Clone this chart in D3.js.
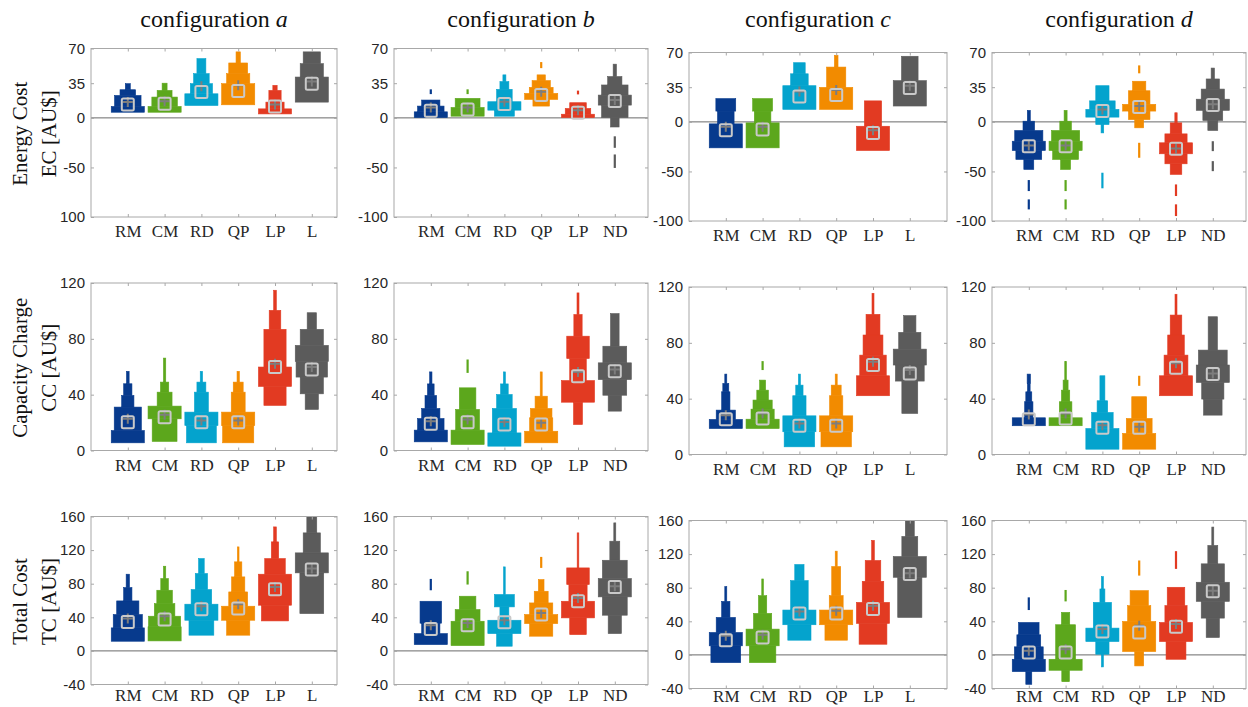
<!DOCTYPE html>
<html>
<head>
<meta charset="utf-8">
<script src="https://cdn.jsdelivr.net/npm/d3@7"></script>
<style>
  body { margin: 0; background: #fff; }
  svg { display: block; }
</style>
</head>
<body>
<svg id="chart" width="1248" height="707"></svg>
<script>
// categories per configuration
const catsAC = ['RM', 'CM', 'RD', 'QP', 'LP', 'L'];
const catsBD = ['RM', 'CM', 'RD', 'QP', 'LP', 'ND'];
const configNames = ['a', 'b', 'c', 'd'];

// y ticks per row
const ecTicks = [70, 35, 0, -50, -100];
const ecTickLabelsA = ['70', '35', '0', '-50', '100'];
const ccTicks = [0, 40, 80, 120];
const tcTicks = [-40, 0, 40, 80, 120, 160];

// each box: s = stacked steps [lo, hi, relative width], o = outlier dashes [lo, hi],
// sq = square marker value, cr = cross marker value
const ecA = [
  { s: [[5.7, 11.5, 1], [11.5, 22.6, 0.8], [22.6, 28.4, 0.47], [28.4, 34.5, 0.15]], o: [], sq: 13.5, cr: 15.9 },
  { s: [[5.7, 11.5, 1], [11.5, 21, 0.77], [21, 27.7, 0.45], [27.7, 35, 0.15]], o: [], sq: 14.2, cr: 16.9 },
  { s: [[12.5, 24.3, 1], [24.3, 34.5, 0.67], [34.5, 44.6, 0.47], [44.6, 59.8, 0.27]], o: [], sq: 26, cr: 31.8 },
  { s: [[13.2, 34.5, 1], [34.5, 44.6, 0.7], [44.6, 55.4, 0.57], [55.4, 66.6, 0.13]], o: [], sq: 27, cr: 32.8 },
  { s: [[4, 9.1, 1], [9.1, 15.9, 0.55], [15.9, 27.7, 0.37], [27.7, 32.8, 0.13]], o: [], sq: 11.5, cr: 13.5 },
  { s: [[15.9, 41.2, 1], [41.2, 54.7, 0.7], [54.7, 66.6, 0.52]], o: [], sq: 34.5, cr: 36.8 }
];
const ecB = [
  { s: [[0.3, 6.1, 1], [6.1, 11.9, 0.8], [11.9, 18, 0.55]], o: [[24, 28.8]], sq: 7.1, cr: 10.5 },
  { s: [[1.7, 10.5, 1], [10.5, 19.7, 0.75]], o: [[24, 28.8]], sq: 8.5, cr: 10.5 },
  { s: [[1.7, 7.8, 0.6], [7.8, 16.3, 1], [16.3, 28.8, 0.47], [28.8, 36.6, 0.27], [36.6, 43.4, 0.09]], o: [], sq: 13.9, cr: 16.3 },
  { s: [[11.9, 18.6, 0.5], [18.6, 24.7, 1], [24.7, 30.8, 0.72], [30.8, 37.6, 0.55], [37.6, 43.4, 0.25]], o: [[50.2, 56.3]], sq: 23, cr: 26.4 },
  { s: [[0.3, 3.7, 1], [3.7, 9.5, 0.77], [9.5, 15.3, 0.5]], o: [[23.7, 27.5]], sq: 5.1, cr: 7.8 },
  { s: [[-9.2, 0.3, 0.26], [0.3, 12.9, 0.8], [12.9, 23, 1], [23, 33.2, 0.8], [33.2, 41.7, 0.43], [41.7, 54.2, 0.1]], o: [[-30.2, -18.6], [-50.5, -36.9]], sq: 17, cr: 18 }
];
const ecC = [
  { s: [[-26.2, -2, 1], [-2, 10.9, 0.5], [10.9, 23.5, 0.6]], o: [], sq: -8.4, cr: -5 },
  { s: [[-26.2, -1, 1], [-1, 10.9, 0.5], [10.9, 23.5, 0.6]], o: [], sq: -7.7, cr: -5 },
  { s: [[12.6, 36.5, 1], [36.5, 48.5, 0.53], [48.5, 59.7, 0.35]], o: [], sq: 25.6, cr: 30.7 },
  { s: [[12.6, 34.8, 1], [34.8, 55.3, 0.58], [55.3, 67.2, 0.11]], o: [], sq: 27, cr: 32.1 },
  { s: [[-28.9, -4.4, 1], [-4.4, 21.2, 0.52]], o: [], sq: -11.1, cr: -8.4 },
  { s: [[16, 41.6, 1], [41.6, 66.2, 0.5]], o: [], sq: 34.1, cr: 36.5 }
];
const ecD = [
  { s: [[-48, -37.9, 0.3], [-37.9, -28.9, 0.78], [-28.9, -19.5, 1], [-19.5, -8.7, 0.85], [-8.7, 0.7, 0.35], [0.7, 11.6, 0.09]], o: [[-69.8, -58.7], [-88.3, -78.2]], sq: -24.5, cr: -23.8 },
  { s: [[-48, -37.9, 0.3], [-37.9, -28.9, 0.78], [-28.9, -19.5, 1], [-19.5, -8.7, 0.85], [-8.7, 0.7, 0.35], [0.7, 11.6, 0.09]], o: [[-69.8, -58.7], [-88.3, -78.2]], sq: -24.5, cr: -23.8 },
  { s: [[-11.1, -2.7, 0.08], [-2.7, 4.8, 0.4], [4.8, 12.6, 1], [12.6, 21.2, 0.77], [21.2, 36.5, 0.4]], o: [[-67, -51.3]], sq: 10.9, cr: 12.6 },
  { s: [[-6, 2.3, 0.27], [2.3, 10.9, 0.65], [10.9, 17.7, 1], [17.7, 31.4, 0.65], [31.4, 41, 0.4]], o: [[49, 57], [-36.2, -21.1]], sq: 15, cr: 16 },
  { s: [[-53, -42.3, 0.35], [-42.3, -32.2, 0.67], [-32.2, -21.1, 1], [-21.1, -12.1, 0.67], [-12.1, -1, 0.35], [-1, 9.2, 0.07]], o: [[-74.8, -63.1], [-95, -83.2]], sq: -27.2, cr: -26.8 },
  { s: [[-8.7, 1.4, 0.3], [1.4, 11.6, 0.6], [11.6, 22.9, 1], [22.9, 33.1, 0.7], [33.1, 43.3, 0.4], [43.3, 54.3, 0.1]], o: [[-29.5, -19.5], [-49.7, -39.6]], sq: 17, cr: 17.7 }
];

const ccA = [
  { s: [[5.5, 14.3, 1], [14.3, 31.1, 0.82], [31.1, 39.4, 0.37], [39.4, 47.8, 0.25], [47.8, 56.7, 0.08]], o: [], sq: 20.3, cr: 22.7 },
  { s: [[6.5, 22.7, 0.75], [22.7, 31.8, 1], [31.8, 41.8, 0.45], [41.8, 49, 0.25], [49, 66.2, 0.07]], o: [], sq: 23.9, cr: 25.6 },
  { s: [[5.5, 17.9, 0.9], [17.9, 27.5, 1], [27.5, 41.8, 0.42], [41.8, 49, 0.27], [49, 56.7, 0.07]], o: [], sq: 20.3, cr: 21.5 },
  { s: [[5.5, 17.9, 0.94], [17.9, 27.5, 1], [27.5, 41.8, 0.42], [41.8, 49, 0.3], [49, 56.7, 0.07]], o: [], sq: 20.3, cr: 21.5 },
  { s: [[32.3, 45.9, 0.67], [45.9, 59.8, 1], [59.8, 86.8, 0.67], [86.8, 100.4, 0.35], [100.4, 114.8, 0.08]], o: [], sq: 59.8, cr: 62.2 },
  { s: [[29.4, 40.6, 0.4], [40.6, 52.6, 0.7], [52.6, 63.8, 0.95], [63.8, 75.3, 1], [75.3, 86.8, 0.7], [86.8, 98.7, 0.28]], o: [], sq: 58.1, cr: 59.8 }
];
const ccB = [
  { s: [[6.2, 14.6, 1], [14.6, 22.9, 0.8], [22.9, 30.1, 0.55], [30.1, 39.4, 0.35], [39.4, 47.7, 0.2], [47.7, 56.3, 0.07]], o: [], sq: 19.1, cr: 21 },
  { s: [[4.3, 14.6, 1], [14.6, 29.4, 0.72], [29.4, 44.9, 0.5]], o: [[55.6, 65.2]], sq: 20.3, cr: 22.2 },
  { s: [[3.1, 12.6, 1], [12.6, 30.1, 0.73], [30.1, 40.1, 0.47], [40.1, 47.7, 0.23], [47.7, 56.3, 0.06]], o: [], sq: 18.6, cr: 20.5 },
  { s: [[5.5, 13.8, 1], [13.8, 23.4, 0.7], [23.4, 30.1, 0.65], [30.1, 38.9, 0.37], [38.9, 56.3, 0.06]], o: [], sq: 18.6, cr: 19.8 },
  { s: [[18.6, 34.6, 0.27], [34.6, 50.1, 1], [50.1, 65.9, 0.5], [65.9, 81.9, 0.68], [81.9, 97.4, 0.25], [97.4, 112.9, 0.06]], o: [], sq: 53.2, cr: 56.3 },
  { s: [[28.2, 39.6, 0.4], [39.6, 50.8, 0.72], [50.8, 62.8, 1], [62.8, 74.7, 0.72], [74.7, 98.1, 0.26]], o: [], sq: 56.8, cr: 58 }
];
const ccC = [
  { s: [[18.6, 25.1, 1], [25.1, 31.8, 0.58], [31.8, 44.9, 0.25], [44.9, 50.9, 0.18], [50.9, 57.6, 0.06]], o: [], sq: 25.3, cr: 28.2 },
  { s: [[18.6, 25.3, 1], [25.3, 32.5, 0.7], [32.5, 39, 0.58], [39, 46.1, 0.35], [46.1, 53.3, 0.18]], o: [[60.5, 66.9]], sq: 25.8, cr: 29.4 },
  { s: [[5.5, 16.3, 0.92], [16.3, 27.7, 1], [27.7, 42.1, 0.4], [42.1, 49.7, 0.22], [49.7, 57.6, 0.06]], o: [], sq: 20.6, cr: 22.2 },
  { s: [[5.5, 16.3, 0.92], [16.3, 27.7, 1], [27.7, 42.1, 0.4], [42.1, 49.7, 0.3], [49.7, 57.6, 0.06]], o: [], sq: 20.6, cr: 22.2 },
  { s: [[42.1, 56.4, 1], [56.4, 71.2, 0.8], [71.2, 85.6, 0.6], [85.6, 100.4, 0.42], [100.4, 115.5, 0.06]], o: [], sq: 64.1, cr: 66.5 },
  { s: [[29.4, 52.6, 0.48], [52.6, 64.1, 0.87], [64.1, 75.5, 1], [75.5, 87.5, 0.67], [87.5, 99.5, 0.37]], o: [], sq: 58.1, cr: 60.5 }
];
const ccD = [
  { s: [[20.6, 26.3, 1], [26.3, 37.8, 0.25], [37.8, 44.9, 0.18], [44.9, 50.9, 0.08], [50.9, 57.6, 0.1]], o: [], sq: 25.3, cr: 28.7 },
  { s: [[20.6, 26.3, 1], [26.3, 37.8, 0.38], [37.8, 46.1, 0.25], [46.1, 53.3, 0.15], [53.3, 66.5, 0.05]], o: [], sq: 25.8, cr: 29.4 },
  { s: [[3.8, 18.6, 1], [18.6, 30.1, 0.65], [30.1, 38.5, 0.32], [38.5, 56.4, 0.15]], o: [], sq: 19.1, cr: 21 },
  { s: [[3.8, 15.1, 1], [15.1, 25.8, 0.78], [25.8, 41.4, 0.45]], o: [[49.2, 56.4]], sq: 19.1, cr: 19.8 },
  { s: [[42.1, 56.4, 1], [56.4, 71.2, 0.72], [71.2, 85.6, 0.5], [85.6, 99.9, 0.35], [99.9, 114.8, 0.06]], o: [], sq: 62.2, cr: 65.3 },
  { s: [[28.2, 39.7, 0.56], [39.7, 51.6, 0.67], [51.6, 64.1, 1], [64.1, 74.8, 0.87], [74.8, 98.7, 0.28]], o: [], sq: 57.6, cr: 58.1 }
];

const tcA = [
  { s: [[11.5, 27.4, 1], [27.4, 43.3, 0.88], [43.3, 59.5, 0.67], [59.5, 75.4, 0.25], [75.4, 91.3, 0.1]], o: [], sq: 34.5, cr: 38.5 },
  { s: [[11.9, 28.6, 1], [28.6, 41.3, 0.97], [41.3, 56.3, 0.62], [56.3, 72.2, 0.47], [72.2, 86.1, 0.23], [86.1, 100.8, 0.07]], o: [], sq: 37.3, cr: 41.3 },
  { s: [[18.7, 36.5, 0.75], [36.5, 55.6, 1], [55.6, 73, 0.62], [73, 92.1, 0.37], [92.1, 109.9, 0.17]], o: [], sq: 49.6, cr: 53.2 },
  { s: [[18.7, 36.5, 0.7], [36.5, 53.2, 1], [53.2, 70.2, 0.57], [70.2, 88.1, 0.4], [88.1, 106, 0.22], [106, 123.8, 0.05]], o: [], sq: 50.4, cr: 55.6 },
  { s: [[35.7, 54.4, 0.82], [54.4, 91.3, 1], [91.3, 109.9, 0.62], [109.9, 129.8, 0.22], [129.8, 147.6, 0.08]], o: [], sq: 73.4, cr: 76.2 },
  { s: [[44.4, 92.9, 0.72], [92.9, 116.7, 1], [116.7, 140.5, 0.52], [140.5, 160.3, 0.3]], o: [], sq: 96.8, cr: 98 }
];
const tcB = [
  { s: [[7.5, 20.6, 1], [20.6, 33, 0.55], [33, 59.1, 0.65]], o: [[72.2, 85.7]], sq: 26.2, cr: 30.6 },
  { s: [[6.3, 35.3, 1], [35.3, 49.2, 0.75], [49.2, 65.1, 0.5]], o: [[79, 94.8]], sq: 30.6, cr: 33.3 },
  { s: [[5.6, 20.6, 0.47], [20.6, 36.5, 1], [36.5, 52.4, 0.27], [52.4, 67.1, 0.6], [67.1, 100, 0.05]], o: [], sq: 34.1, cr: 36.5 },
  { s: [[17.5, 32.5, 0.7], [32.5, 43.3, 1], [43.3, 57.1, 0.7], [57.1, 71, 0.42], [71, 84.9, 0.17]], o: [[98.8, 111.9]], sq: 43.3, cr: 45.2 },
  { s: [[19.4, 39.3, 0.5], [39.3, 59.1, 1], [59.1, 79, 0.55], [79, 98.8, 0.68], [98.8, 140.5, 0.05]], o: [], sq: 59.1, cr: 63.1 },
  { s: [[20.6, 42.5, 0.4], [42.5, 64.3, 0.75], [64.3, 86.1, 1], [86.1, 107.9, 0.75], [107.9, 130.6, 0.3], [130.6, 152.4, 0.06]], o: [], sq: 76.2, cr: 77 }
];
const tcC = [
  { s: [[-9.2, 10.8, 0.9], [10.8, 26.7, 1], [26.7, 44.6, 0.58], [44.6, 63.7, 0.25], [63.7, 81.3, 0.06]], o: [], sq: 17.5, cr: 22.7 },
  { s: [[-9.2, 10.8, 0.8], [10.8, 30.7, 1], [30.7, 49.4, 0.55], [49.4, 70.5, 0.25], [70.5, 90.4, 0.05]], o: [], sq: 20.7, cr: 23.9 },
  { s: [[17.5, 35.9, 0.7], [35.9, 53.4, 1], [53.4, 88.4, 0.53], [88.4, 107.6, 0.28]], o: [], sq: 49.4, cr: 51.8 },
  { s: [[17.5, 35.9, 0.68], [35.9, 53.4, 1], [53.4, 70.5, 0.42], [70.5, 105.2, 0.27], [105.2, 123.5, 0.06]], o: [], sq: 49.4, cr: 52.6 },
  { s: [[12.7, 37.5, 0.84], [37.5, 62.5, 1], [62.5, 87.6, 0.65], [87.6, 112.4, 0.47], [112.4, 136.3, 0.08]], o: [], sq: 54.6, cr: 58.6 },
  { s: [[44.6, 92.4, 0.73], [92.4, 117.1, 1], [117.1, 141, 0.48], [141, 160, 0.27]], o: [], sq: 96.4, cr: 97.2 }
];
const tcD = [
  { s: [[-35, -19.9, 0.18], [-19.9, -5.2, 1], [-5.2, 9.6, 0.87], [9.6, 23.9, 0.72], [23.9, 38.6, 0.62]], o: [[53.4, 68.5]], sq: 2.8, cr: 4.8 },
  { s: [[-31.9, -18.3, 0.23], [-18.3, -5.2, 1], [-5.2, 35.9, 0.6], [35.9, 50.6, 0.25]], o: [[63.7, 77.3]], sq: 2.8, cr: 6.8 },
  { s: [[-14.3, 0.8, 0.06], [0.8, 15.9, 0.4], [15.9, 31.9, 1], [31.9, 62.5, 0.55], [62.5, 78.5, 0.15], [78.5, 93.2, 0.06]], o: [], sq: 27.9, cr: 30.7 },
  { s: [[-13.1, 4, 0.27], [4, 39.8, 1], [39.8, 58.6, 0.7], [58.6, 76.5, 0.55]], o: [[94.4, 112.4]], sq: 26.7, cr: 34.7 },
  { s: [[-5.2, 15.9, 0.6], [15.9, 38.6, 1], [38.6, 58.6, 0.67], [58.6, 80.5, 0.53]], o: [[102.4, 123.5]], sq: 33.5, cr: 36.7 },
  { s: [[20.7, 43.8, 0.4], [43.8, 63.7, 0.7], [63.7, 86.5, 1], [86.5, 108.4, 0.7], [108.4, 130.3, 0.3], [130.3, 152.2, 0.06]], o: [], sq: 75.7, cr: 76.5 }
];

// colours per category position
const boxColors = ['#073a8d', '#5ca71c', '#04a3cd', '#f28b00', '#e23a22', '#5b5b5b'];

// * layout
const svg = d3.select('#chart');
const colBox = [
  { l: 91, r: 337, dy: 0 },
  { l: 394, r: 648, dy: 0 },
  { l: 689, r: 947, dy: 4 },
  { l: 992, r: 1246, dy: 4 }
];
const rowBox = [
  { t: 48.5, b: 217, pad: 8, domain: [-100, 70], ticks: ecTicks, title: ['Energy Cost', 'EC [AU$]'] },
  { t: 283, b: 450.5, pad: 8, domain: [0, 120], ticks: ccTicks, title: ['Capacity Charge', 'CC [AU$]'] },
  { t: 516.5, b: 684.5, pad: 4, domain: [-40, 160], ticks: tcTicks, title: ['Total Cost', 'TC [AU$]'] }
];
const panels = [
  [ecA, ecB, ecC, ecD],
  [ccA, ccB, ccC, ccD],
  [tcA, tcB, tcC, tcD]
];
const spacing = 36.8;
const serif = '"Liberation Serif", "Times New Roman", serif';
const sans = '"Liberation Sans", Arial, sans-serif';
const frameColor = '#a8a8a8';
const pageH = 707;

// column titles
configNames.forEach((name, j) => {
  const t = svg.append('text')
    .attr('x', (colBox[j].l + colBox[j].r) / 2)
    .attr('y', 27)
    .attr('text-anchor', 'middle')
    .style('font-family', serif)
    .style('font-size', '24px')
    .attr('fill', '#111');
  t.append('tspan').text('configuration ');
  t.append('tspan').style('font-style', 'italic').text(name);
});

// row titles
rowBox.forEach((row) => {
  const cy = (row.t + row.b) / 2 + 1;
  row.title.forEach((line, k) => {
    svg.append('text')
      .attr('transform', `translate(${k === 0 ? 27 : 56},${cy}) rotate(-90)`)
      .attr('text-anchor', 'middle')
      .style('font-family', serif)
      .style('font-size', '21px')
      .attr('fill', '#111')
      .text(line);
  });
});

panels.forEach((rowData, i) => {
  rowData.forEach((data, j) => {
    drawPanel(i, j, data);
  });
});

function drawPanel(i, j, data) {
  const row = rowBox[i];
  const col = colBox[j];
  const top = row.t + col.dy;
  const bottom = row.b + col.dy;
  const cats = (j % 2 === 0) ? catsAC : catsBD;

  const x = d3.scalePoint()
    .domain(cats)
    .range([col.l + spacing, col.l + 6 * spacing]);
  const y = d3.scaleLinear()
    .domain(row.domain)
    .range([bottom, top]);
  const boxW = spacing * 0.9;

  const g = svg.append('g');
  const clipId = `clip-${i}-${j}`;
  g.append('clipPath').attr('id', clipId)
    .append('rect')
    .attr('x', col.l).attr('y', top)
    .attr('width', col.r - col.l).attr('height', bottom - top);

  // zero line
  if (row.domain[0] < 0) {
    g.append('line')
      .attr('x1', col.l).attr('x2', col.r)
      .attr('y1', y(0)).attr('y2', y(0))
      .attr('stroke', '#6a6a6a')
      .attr('stroke-width', 1);
  }

  const plot = g.append('g').attr('clip-path', `url(#${clipId})`);

  data.forEach((d, k) => {
    const cx = x(cats[k]);
    const color = boxColors[k];
    const bg = plot.append('g');

    bg.selectAll('rect.step')
      .data(d.s)
      .enter()
      .append('rect')
      .classed('step', true)
      .attr('x', (s) => cx - s[2] * boxW / 2)
      .attr('width', (s) => s[2] * boxW)
      .attr('y', (s) => y(s[1]))
      .attr('height', (s) => y(s[0]) - y(s[1]))
      .attr('fill', color)
      .attr('stroke', color)
      .attr('stroke-width', 0.6);

    bg.selectAll('rect.out')
      .data(d.o)
      .enter()
      .append('rect')
      .classed('out', true)
      .attr('x', cx - 1.1)
      .attr('width', 2.2)
      .attr('y', (o) => y(o[1]))
      .attr('height', (o) => y(o[0]) - y(o[1]))
      .attr('fill', color);

    // cross marker
    const cy = y(d.cr);
    bg.append('path')
      .attr('d', `M${cx - 5},${cy}H${cx + 5}M${cx},${cy - 5}V${cy + 5}`)
      .attr('stroke', '#7d7d7d')
      .attr('stroke-width', 2)
      .attr('fill', 'none');

    // square marker
    bg.append('rect')
      .attr('x', cx - 6)
      .attr('y', y(d.sq) - 6)
      .attr('width', 12)
      .attr('height', 12)
      .attr('rx', 1.5)
      .attr('fill', 'none')
      .attr('stroke', '#c9c9c9')
      .attr('stroke-width', 2);
  });

  // frame
  g.append('rect')
    .attr('x', col.l).attr('y', top)
    .attr('width', col.r - col.l).attr('height', bottom - top)
    .attr('fill', 'none')
    .attr('stroke', frameColor)
    .attr('stroke-width', 1);

  // axes; keep the category labels inside the page
  const labelSize = 17;
  const pad = Math.max(1, Math.min(row.pad, pageH - 6 - labelSize * 0.71 - bottom));
  const tickLabels = (i === 0 && j === 0) ? ecTickLabelsA : row.ticks.map(String);
  const yAxis = d3.axisLeft(y)
    .tickValues(row.ticks)
    .tickSizeInner(-3)
    .tickSizeOuter(0)
    .tickPadding(6)
    .tickFormat((v, n) => tickLabels[n]);
  const yAxisRight = d3.axisRight(y)
    .tickValues(row.ticks)
    .tickSizeInner(-3)
    .tickSizeOuter(0)
    .tickFormat('');
  const xAxis = d3.axisBottom(x)
    .tickSizeInner(-3)
    .tickSizeOuter(0)
    .tickPadding(pad);
  const xAxisTop = d3.axisTop(x)
    .tickSizeInner(-3)
    .tickSizeOuter(0)
    .tickFormat('');

  const axes = [
    g.append('g').attr('transform', `translate(${col.l},0)`).call(yAxis),
    g.append('g').attr('transform', `translate(${col.r},0)`).call(yAxisRight),
    g.append('g').attr('transform', `translate(0,${bottom})`).call(xAxis),
    g.append('g').attr('transform', `translate(0,${top})`).call(xAxisTop)
  ];
  axes.forEach((a) => {
    a.select('.domain').remove();
    a.selectAll('.tick line').attr('stroke', frameColor);
  });
  axes[0].selectAll('text')
    .style('font-family', sans)
    .style('font-size', '15px')
    .attr('fill', '#262626');
  axes[2].selectAll('text')
    .style('font-family', serif)
    .style('font-size', labelSize + 'px')
    .attr('fill', '#262626');
}
</script>
</body>
</html>
